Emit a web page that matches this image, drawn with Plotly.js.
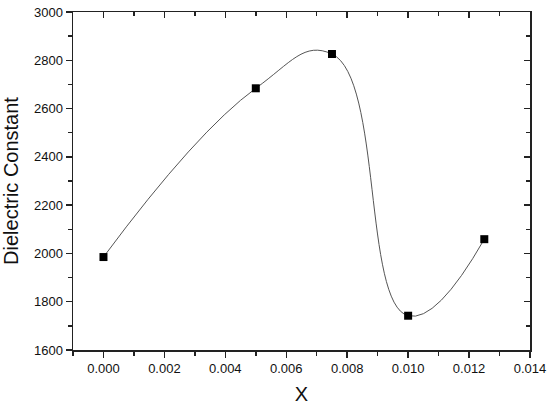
<!DOCTYPE html>
<html>
<head>
<meta charset="utf-8">
<script src="https://cdn.plot.ly/plotly-3.0.1.min.js"></script>
<style>
  html, body { margin: 0; padding: 0; background: #fff; }
  #chart { width: 550px; height: 407px; }
</style>
</head>
<body>
<div id="chart"></div>
<script>
// valores
const xVals = [0.000, 0.005, 0.0075, 0.010, 0.0125];
const dielectric = [1985, 2684, 2826, 1742, 2059];
const xTicks = [0.000, 0.002, 0.004, 0.006, 0.008, 0.010, 0.012, 0.014];
const yTicks = [1600, 1800, 2000, 2200, 2400, 2600, 2800, 3000];

const fontName = 'Liberation Sans, Arial, sans-serif';

// curva suavizada
const traceCurve = {
    x: xVals,
    y: dielectric,
    mode: 'lines',
    line: { color: '#555', width: 1, shape: 'spline', smoothing: 1.3 },
    hoverinfo: 'skip',
    showlegend: false
};

const tracePoints = {
    x: xVals,
    y: dielectric,
    mode: 'markers',
    marker: { symbol: 'square', size: 8, color: '#000' },
    showlegend: false
};

const baseAxis = {
    showgrid: false,
    zeroline: false,
    showline: true,
    linecolor: '#222',
    linewidth: 1.5,
    tickcolor: '#222',
    tickwidth: 1.5,
    ticklen: 6
};

const layout = {
    width: 550,
    height: 407,
    margin: { l: 73, r: 20, t: 12, b: 57 },
    paper_bgcolor: '#fff',
    plot_bgcolor: '#fff',
    font: { family: fontName, color: '#111' },
    showlegend: false,
    xaxis: Object.assign({}, baseAxis, {
        range: [-0.001, 0.014],
        tickvals: xTicks,
        ticktext: xTicks.map(v => v.toFixed(3)),
        ticks: 'outside',
        tickfont: { size: 13 },
        minor: { dtick: 0.001, tick0: 0, ticks: 'outside', ticklen: 4, tickwidth: 1.5, tickcolor: '#222' },
        title: { text: 'X', font: { size: 20 }, standoff: 12 }
    }),
    yaxis: Object.assign({}, baseAxis, {
        range: [1600, 3000],
        tickvals: yTicks,
        ticks: 'outside',
        tickfont: { size: 13 },
        minor: { dtick: 100, tick0: 1600, ticks: 'outside', ticklen: 4, tickwidth: 1.5, tickcolor: '#222' },
        title: { text: 'Dielectric Constant', font: { size: 20 }, standoff: 12 }
    }),
    // ejes espejo con marcas hacia dentro (estilo Origin)
    xaxis2: Object.assign({}, baseAxis, {
        overlaying: 'x',
        side: 'top',
        matches: 'x',
        tickvals: xTicks,
        ticks: 'inside',
        showticklabels: false,
        minor: { dtick: 0.001, tick0: 0, ticks: 'inside', ticklen: 4, tickwidth: 1.5, tickcolor: '#222' }
    }),
    yaxis2: Object.assign({}, baseAxis, {
        overlaying: 'y',
        side: 'right',
        range: [1600, 3000],
        tickvals: yTicks,
        ticks: 'inside',
        showticklabels: false,
        minor: { dtick: 100, tick0: 1600, ticks: 'inside', ticklen: 4, tickwidth: 1.5, tickcolor: '#222' }
    })
};

// traza invisible para activar los ejes espejo
const traceMirror = {
    x: xVals,
    y: dielectric,
    xaxis: 'x2',
    yaxis: 'y2',
    mode: 'markers',
    marker: { opacity: 0 },
    hoverinfo: 'skip',
    showlegend: false
};

Plotly.newPlot('chart', [traceCurve, tracePoints, traceMirror], layout, { displayModeBar: false, staticPlot: true });
</script>
</body>
</html>
